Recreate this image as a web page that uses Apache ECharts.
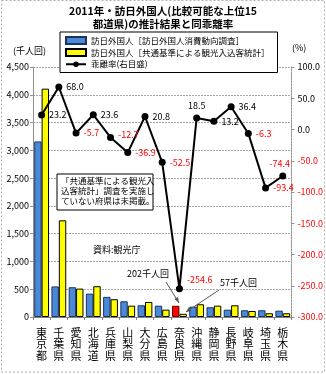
<!DOCTYPE html>
<html><head><meta charset="utf-8">
<script src="https://cdn.jsdelivr.net/npm/echarts@6/dist/echarts.min.js"></script>
<style>html,body{margin:0;padding:0;background:#fff}#c{width:326px;height:374px}</style>
</head><body><div id="c"></div>
<script>
var categories = ['東京都','千葉県','愛知県','北海道','兵庫県','山梨県','大分県','広島県','奈良県','沖縄県','静岡県','長野県','岐阜県','埼玉県','栃木県'];
var surveyVisitors = [3160, 550, 536, 421, 362, 283, 211, 204, 202, 186, 175, 132, 121, 121, 114];
var commonVisitors = [4110, 1740, 511, 554, 320, 204, 271, 132, 57, 229, 204, 211, 108, 67, 67];
var divergence = [23.2, 68.0, -5.7, 23.6, -12.7, -36.9, 20.8, -52.5, -254.6, 18.5, 13.2, 36.4, -6.3, -93.4, -74.4];
var labelPos = ['right','right','right','right','right','right','right','right','right','top','right','right','right','right','top'];
var leftTicks = [0, 500, 1000, 1500, 2000, 2500, 3000, 3500, 4000, 4500];
var rightTicks = [-300, -250, -200, -150, -100, -50, 0, 50, 100];
var seriesNames = ['訪日外国人［訪日外国人消費動向調査］', '訪日外国人［共通基準による観光入込客統計］', '乖離率(右目盛)'];

var FONT = '"Noto Sans CJK JP", "Noto Sans", sans-serif';
var chart = echarts.init(document.getElementById('c'), null, {renderer:'canvas'});

var blueData = surveyVisitors.map(function(v, i){
  return categories[i] === '奈良県' ? {value: v, itemStyle: {color: '#ff0000', borderColor: '#600000'}} : v;
});
var lineData = divergence.map(function(v, i){
  var off = [0,0];
  if (i === 8) off = [0,-9];
  if (i === 14) off = [-3,0];
  if (i === 4) off = [0,-3];
  return {value: v, label: {position: labelPos[i], offset: off, color: v < 0 ? '#ff0000' : '#000'}};
});

chart.setOption({
  animation: false,
  textStyle: {fontFamily: FONT},
  grid: {left: 33, right: 34, top: 67, bottom: 57},
  legend: {
    left: 60, top: 32, orient: 'vertical', itemGap: 3,
    itemWidth: 20, itemHeight: 7,
    backgroundColor: '#fff', borderColor: '#000', borderWidth: 1,
    padding: [4, 8, 4, 5],
    textStyle: {fontSize: 8.5, color: '#000', fontFamily: FONT},
    data: [
      {name: seriesNames[0], icon: 'rect'},
      {name: seriesNames[1], icon: 'rect'},
      {name: seriesNames[2]}
    ]
  },
  xAxis: {
    type: 'category', data: categories,
    axisLine: {lineStyle: {color: '#808080'}},
    axisTick: {show: true, alignWithLabel: false, length: 3, lineStyle: {color: '#808080'}},
    axisLabel: {
      interval: 0, fontSize: 11, color: '#000', lineHeight: 11.5, margin: 10,
      formatter: function(v){ return v.split('').join('\n'); }
    }
  },
  yAxis: [
    {
      type: 'value', min: leftTicks[0], max: leftTicks[leftTicks.length-1], interval: 500,
      axisLine: {show: true, lineStyle: {color: '#909090'}},
      axisTick: {show: true, length: 3, lineStyle: {color: '#909090'}},
      splitLine: {lineStyle: {color: '#a8a8a8', type: [2,1]}},
      axisLabel: {fontSize: 9, color: '#000', margin: 4,
        formatter: function(v){ return v.toLocaleString('en-US'); }}
    },
    {
      type: 'value', min: rightTicks[0], max: rightTicks[rightTicks.length-1], interval: 50,
      axisLine: {show: true, lineStyle: {color: '#909090', type: [2,1]}},
      axisTick: {show: true, length: 3, lineStyle: {color: '#909090'}},
      splitLine: {show: false},
      axisLabel: {fontSize: 9, margin: 6,
        color: function(v){ return v < 0 ? '#ff0000' : '#000'; },
        formatter: function(v){ return v.toFixed(1); }}
    }
  ],
  series: [
    {
      name: seriesNames[0], type: 'bar', data: blueData, yAxisIndex: 0,
      barGap: '0%', barCategoryGap: '14%',
      itemStyle: {color: '#4a89d8', borderColor: '#1c355e', borderWidth: 1}
    },
    {
      name: seriesNames[1], type: 'bar', data: commonVisitors, yAxisIndex: 0,
      itemStyle: {color: '#ffff00', borderColor: '#000', borderWidth: 1}
    },
    {
      name: seriesNames[2], type: 'line', data: lineData, yAxisIndex: 1, z: 5,
      symbol: 'circle', symbolSize: 7,
      lineStyle: {color: '#000', width: 2},
      itemStyle: {color: '#000'},
      label: {show: true, fontSize: 9, distance: 4,
        formatter: function(p){ return p.value.toFixed(1); }}
    }
  ],
  graphic: [
    {type: 'rect', shape: {x: 1.5, y: 0.5, width: 323, height: 371.5},
     style: {fill: 'none', stroke: '#b0b0b0', lineDash: [2,2], lineWidth: 1}, z: 0, silent: true},
    {type: 'text', left: 'center', top: 5, style: {
      text: '2011年・訪日外国人(比較可能な上位15\n都道県)の推計結果と同乖離率',
      font: 'bold 10.5px ' + FONT, fill: '#000', textAlign: 'center', lineHeight: 13}},
    {type: 'text', left: 13, top: 46, style: {text: '(千人回)', font: '9px ' + FONT, fill: '#000'}},
    {type: 'text', left: 292, top: 43, style: {text: '(%)', font: '9px ' + FONT, fill: '#000'}},
    {type: 'rect', shape: {x: 57, y: 174, width: 96, height: 36},
     style: {fill: '#fff', stroke: '#000', lineWidth: 1}, z: 10},
    {type: 'text', left: 61, top: 176, z: 11, style: {
      text: '「共通基準による観光入\n込客統計」調査を実施し\nていない府県は未掲載。',
      font: '8.5px ' + FONT, fill: '#000', lineHeight: 10}},
    {type: 'text', left: 93, top: 245, z: 11, style: {text: '資料:観光庁', font: '9px ' + FONT, fill: '#000'}},
    {type: 'text', left: 127, top: 269, z: 11, style: {text: '202千人回', font: '9px ' + FONT, fill: '#000'}},
    {type: 'line', z: 11, shape: {x1: 166, y1: 282, x2: 179, y2: 303}, style: {stroke: '#555', lineWidth: 1}},
    {type: 'polygon', z: 11, shape: {points: [[179,303],[174.5,299],[178,297]]}, style: {fill: '#555'}},
    {type: 'text', left: 220, top: 278, z: 11, style: {text: '57千人回', font: '9px ' + FONT, fill: '#000'}},
    {type: 'line', z: 11, shape: {x1: 219, y1: 290, x2: 186, y2: 312}, style: {stroke: '#555', lineWidth: 1}},
    {type: 'polygon', z: 11, shape: {points: [[186,312],[189,307],[191,311]]}, style: {fill: '#555'}}
  ]
});
</script>
</body></html>
